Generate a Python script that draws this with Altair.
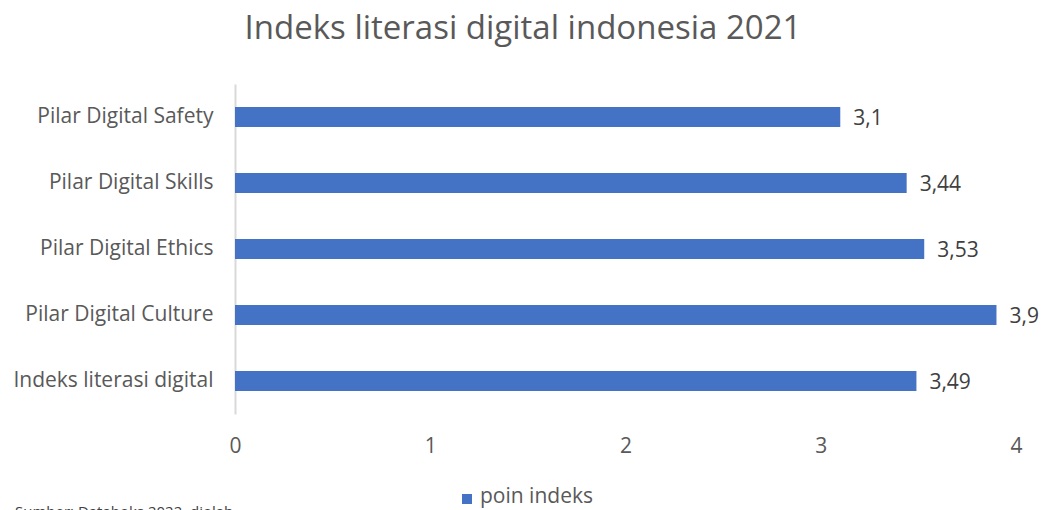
import altair as alt
import pandas as pd

categories = ["Pilar Digital Safety", "Pilar Digital Skills", "Pilar Digital Ethics",
              "Pilar Digital Culture", "Indeks literasi digital"]
values = [3.1, 3.44, 3.53, 3.9, 3.49]
labels = ["3,1", "3,44", "3,53", "3,9", "3,49"]
x_ticks = [0, 1, 2, 3, 4]
title_text = "Indeks literasi digital indonesia 2021"
legend_label = "poin indeks"
source_text = "Sumber: Databoks 2022, diolah"

FONT = "Open Sans"
FS = 21
df = pd.DataFrame({"cat": categories, "val": values, "lab": labels})

x = alt.X("val:Q", scale=alt.Scale(domain=[0, 4], nice=False),
          axis=alt.Axis(values=x_ticks, title=None, grid=False, domain=False, ticks=False,
                        labelFontSize=FS, labelColor="#595959", labelFont=FONT,
                        labelPadding=21, labelFlush=False, format="d"))
y = alt.Y("cat:N", sort=categories,
          scale=alt.Scale(paddingInner=0.7, paddingOuter=0.35),
          axis=alt.Axis(title=None, ticks=False, domain=True, domainColor="#d9d9d9",
                        domainWidth=2, labelFontSize=FS, labelColor="#595959",
                        labelFont=FONT, labelPadding=22, labelLimit=400))

bars = alt.Chart(df).mark_bar(color="#4472C4", size=20).encode(x=x, y=y)
text = alt.Chart(df).mark_text(align="left", dx=13, dy=2, fontSize=FS, font=FONT,
                               color="#404040").encode(x="val:Q", y=alt.Y("cat:N", sort=categories), text="lab:N")

extra = pd.DataFrame({"t": [title_text]})
title = alt.Chart(extra).mark_text(fontSize=33, font=FONT, color="#595959",
                                   align="center", baseline="middle").encode(
    x=alt.value(523 - 235), y=alt.value(29 - 84), text="t:N")

leg_sq = alt.Chart(extra).mark_square(size=100, color="#4472C4", opacity=1).encode(
    x=alt.value(467 - 235), y=alt.value(499 - 84))
leg_tx = alt.Chart(pd.DataFrame({"t": [legend_label]})).mark_text(
    fontSize=FS, font=FONT, color="#595959", align="left", baseline="middle").encode(
    x=alt.value(480 - 235), y=alt.value(497 - 84), text="t:N")
src = alt.Chart(pd.DataFrame({"t": [source_text]})).mark_text(
    fontSize=15, font=FONT, color="#404040", align="left", baseline="top").encode(
    x=alt.value(15 - 235), y=alt.value(505 - 84), text="t:N")

chart = alt.layer(bars, text, title, leg_sq, leg_tx, src).properties(
    width=781, height=330,
    background="white",
    autosize=alt.AutoSizeParams(type="none"),
    padding={"left": 235, "top": 84, "right": 35, "bottom": 96},
).configure_view(strokeWidth=0)

chart.save("out.html", embed_options={"renderer": "svg", "actions": False})
